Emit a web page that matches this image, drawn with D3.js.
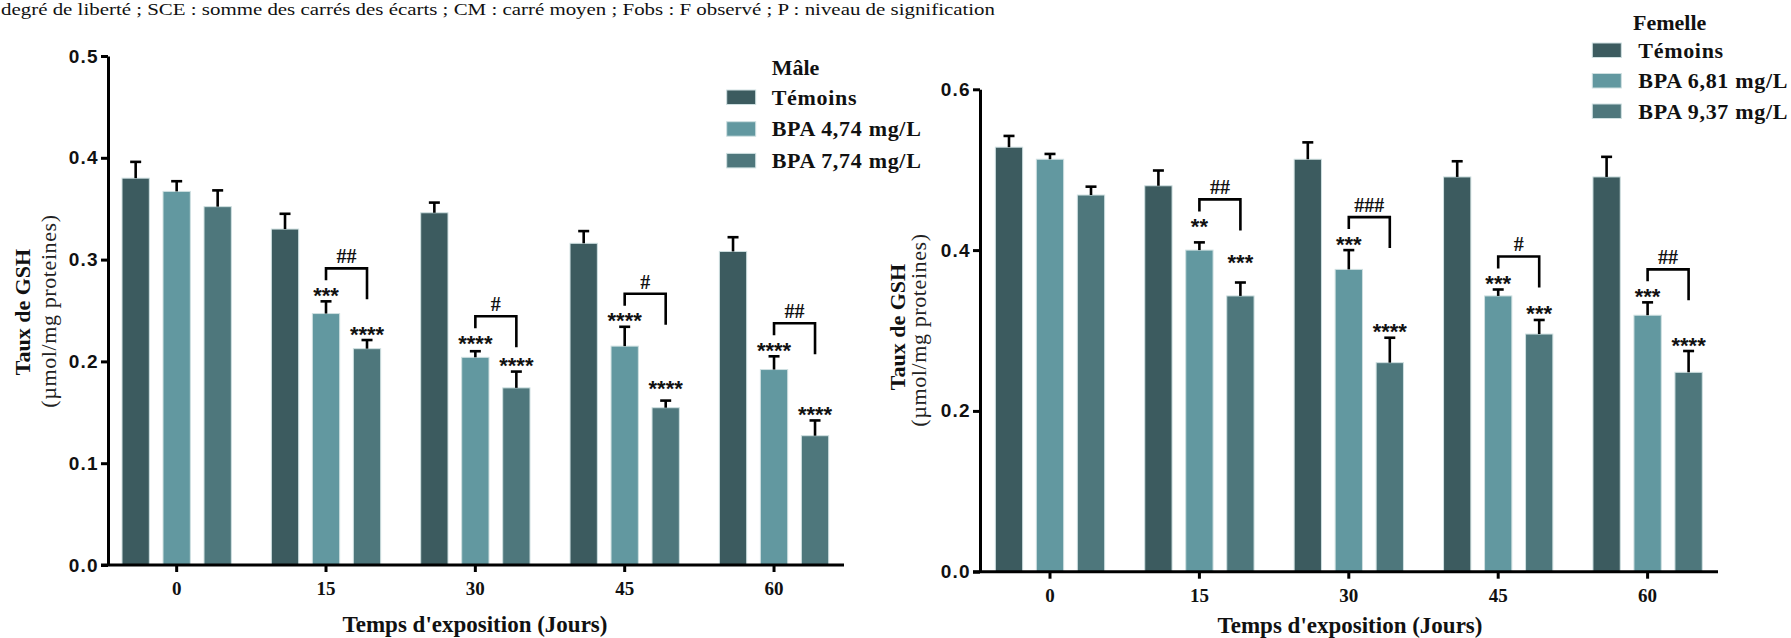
<!DOCTYPE html>
<html>
<head>
<meta charset="utf-8">
<script src="https://cdn.jsdelivr.net/npm/d3@7"></script>
<style>
  html, body { margin: 0; padding: 0; background: #fff; }
  svg { display: block; }
</style>
</head>
<body>
<svg id="chart" width="1791" height="638"></svg>
<script>
// ---- Data: GSH level (µmol/mg proteines), mean and SEM per exposure day ----
const days = ["0", "15", "30", "45", "60"];

// Mâle
const maleSeriesNames = ["Témoins", "BPA 4,74 mg/L", "BPA 7,74 mg/L"];
const maleTemoins      = [0.380, 0.330, 0.346, 0.316, 0.308];
const maleTemoinsErr   = [0.016, 0.015, 0.010, 0.012, 0.014];
const maleBpaLow       = [0.367, 0.247, 0.204, 0.215, 0.192];
const maleBpaLowErr    = [0.010, 0.012, 0.006, 0.019, 0.013];
const maleBpaHigh      = [0.352, 0.2125, 0.174, 0.1545, 0.127];
const maleBpaHighErr   = [0.016, 0.0085, 0.016, 0.007, 0.015];
const maleStarsLow     = ["", "***", "****", "****", "****"];
const maleStarsHigh    = ["", "****", "****", "****", "****"];
const maleHash         = ["", "##", "#", "#", "##"];
const maleYTicks       = [0.0, 0.1, 0.2, 0.3, 0.4, 0.5];

// Femelle
const femSeriesNames   = ["Témoins", "BPA 6,81 mg/L", "BPA 9,37 mg/L"];
const femTemoins       = [0.528, 0.480, 0.513, 0.491, 0.491];
const femTemoinsErr    = [0.014, 0.019, 0.021, 0.0195, 0.025];
const femBpaLow        = [0.513, 0.400, 0.376, 0.343, 0.319];
const femBpaLowErr     = [0.0066, 0.0096, 0.024, 0.008, 0.016];
const femBpaHigh       = [0.4685, 0.343, 0.260, 0.2956, 0.248];
const femBpaHighErr    = [0.0104, 0.0167, 0.031, 0.0175, 0.0265];
const femStarsLow      = ["", "**", "***", "***", "***"];
const femStarsHigh     = ["", "***", "****", "***", "****"];
const femHash          = ["", "##", "###", "#", "##"];
const femYTicks        = [0.0, 0.2, 0.4, 0.6];

const headerText = "degré de liberté ; SCE : somme des carrés des écarts ; CM : carré moyen ; Fobs : F observé ; P : niveau de signification";
const xTitleText = "Temps d'exposition (Jours)";
const yTitleMain = "Taux de GSH";
const yTitleUnit = "(µmol/mg proteines)";

// ---- Styling ----
const colors = ["#3c5b5f", "#6298a0", "#4e777c"];
const serif = "'Liberation Serif', 'Times New Roman', serif";
const sans = "'Liberation Sans', Arial, sans-serif";

const svg = d3.select("#chart");
svg.append("rect").attr("width", 1791).attr("height", 638).attr("fill", "#fff");

svg.append("text")
  .attr("x", 1).attr("y", 15)
  .attr("font-family", serif).attr("font-size", 17)
  .attr("textLength", 994).attr("lengthAdjust", "spacingAndGlyphs")
  .attr("fill", "#111")
  .text(headerText);

function drawPanel(cfg) {
  const g = svg.append("g");
  const values = cfg.values, errs = cfg.errs;

  const y = d3.scaleLinear().domain([0, cfg.yMax]).range([cfg.yBottom, cfg.yTop]);
  const x = d3.scaleBand().domain(days).range(cfg.bandRange).padding(0);
  const inner = d3.scaleBand().domain([0, 1, 2]).range([-61.5, 61.5])
    .paddingInner(0.334).paddingOuter(0.167);
  const cx = (i) => x(days[i]) + x.bandwidth() / 2;
  const barCenter = (i, s) => cx(i) + inner(s) + inner.bandwidth() / 2;

  // bars
  for (let s = 0; s < 3; s++) {
    g.append("g").selectAll("rect")
      .data(values[s])
      .join("rect")
      .attr("x", (d, i) => cx(i) + inner(s))
      .attr("width", inner.bandwidth())
      .attr("y", d => y(d))
      .attr("height", d => y(0) - y(d))
      .attr("fill", colors[s])
      .attr("stroke", "#cfe0e1")
      .attr("stroke-width", 1);
  }

  // upper error bars
  for (let s = 0; s < 3; s++) {
    const eg = g.append("g").attr("stroke", "#000").attr("stroke-width", 2.6);
    values[s].forEach((v, i) => {
      const bx = barCenter(i, s);
      const top = y(v + errs[s][i]);
      eg.append("line").attr("x1", bx).attr("x2", bx).attr("y1", y(v)).attr("y2", top);
      eg.append("line").attr("x1", bx - 5.5).attr("x2", bx + 5.5).attr("y1", top).attr("y2", top);
    });
  }

  // significance stars and brackets
  const starCenter = [];
  for (let s = 1; s < 3; s++) {
    const labels = s === 1 ? cfg.starsLow : cfg.starsHigh;
    starCenter[s] = [];
    values[s].forEach((v, i) => {
      const lift = (cfg.lift[s] && cfg.lift[s][i]) || 0;
      const c = y(v + errs[s][i]) - 11 - lift;
      starCenter[s][i] = c;
      if (!labels[i]) return;
      g.append("text")
        .attr("x", barCenter(i, s)).attr("y", c + 12.5)
        .attr("text-anchor", "middle")
        .attr("font-family", sans).attr("font-weight", "bold").attr("font-size", 22)
        .attr("fill", "#111")
        .text(labels[i]);
    });
  }
  cfg.hash.forEach((h, i) => {
    if (!h) return;
    const top = starCenter[1][i] - 22;
    const xl = barCenter(i, 1), xr = barCenter(i, 2);
    g.append("path")
      .attr("d", `M${xl},${top + 12}V${top}H${xr}V${top + 31}`)
      .attr("fill", "none").attr("stroke", "#000").attr("stroke-width", 2.6);
    g.append("text")
      .attr("x", (xl + xr) / 2).attr("y", top - 5)
      .attr("text-anchor", "middle")
      .attr("font-family", serif).attr("font-weight", "bold").attr("font-size", 20)
      .attr("fill", "#111")
      .text(h);
  });

  // y axis
  const ya = g.append("g").attr("transform", `translate(${cfg.axisX},0)`)
    .call(d3.axisLeft(y).tickValues(cfg.yTicks).tickFormat(d3.format(".1f"))
      .tickSize(7).tickSizeOuter(0).tickPadding(2));
  ya.selectAll("path, line").attr("stroke", "#000").attr("stroke-width", 3);
  ya.selectAll("text")
    .attr("font-family", sans).attr("font-weight", "bold").attr("font-size", 19)
    .attr("letter-spacing", 1.3)
    .attr("fill", "#111");

  // x axis
  const xa = g.append("g").attr("transform", `translate(0,${cfg.yBottom})`)
    .call(d3.axisBottom(x).tickSize(7).tickSizeOuter(0).tickPadding(10));
  xa.select(".domain").remove();
  xa.selectAll("line").attr("stroke", "#000").attr("stroke-width", 3);
  xa.selectAll("text")
    .attr("font-family", serif).attr("font-weight", "bold").attr("font-size", 19)
    .attr("fill", "#111");
  g.append("line")
    .attr("x1", cfg.axisX - 7).attr("x2", cfg.xEnd)
    .attr("y1", cfg.yBottom).attr("y2", cfg.yBottom)
    .attr("stroke", "#000").attr("stroke-width", 3);

  // axis titles
  g.append("text")
    .attr("x", cfg.xTitle[0]).attr("y", cfg.xTitle[1])
    .attr("text-anchor", "middle")
    .attr("font-family", serif).attr("font-weight", "bold").attr("font-size", 23)
    .attr("fill", "#111")
    .text(xTitleText);
  g.append("text")
    .attr("transform", `translate(${cfg.yTitle[0]},${cfg.yTitle[2]}) rotate(-90)`)
    .attr("text-anchor", "middle")
    .attr("font-family", serif).attr("font-weight", "bold").attr("font-size", 22)
    .attr("fill", "#111")
    .text(yTitleMain);
  g.append("text")
    .attr("transform", `translate(${cfg.yTitle[1]},${cfg.yTitle[3]}) rotate(-90)`)
    .attr("text-anchor", "middle")
    .attr("font-family", serif).attr("font-size", 22)
    .attr("letter-spacing", 0.6)
    .attr("fill", "#222")
    .text(yTitleUnit);

  // legend
  const L = cfg.legend;
  const lg = g.append("g");
  lg.append("text")
    .attr("x", L.titleX).attr("y", L.titleY)
    .attr("font-family", serif).attr("font-weight", "bold").attr("font-size", 22)
    .attr("fill", "#111")
    .text(L.title);
  cfg.names.forEach((name, s) => {
    const top = L.top + s * L.step;
    lg.append("rect")
      .attr("x", L.swX).attr("y", top).attr("width", 29).attr("height", 14.5)
      .attr("fill", colors[s]).attr("stroke", "#cfe0e1").attr("stroke-width", 1);
    lg.append("text")
      .attr("x", L.textX).attr("y", top + 14.5)
      .attr("font-family", serif).attr("font-weight", "bold").attr("font-size", 22)
      .attr("letter-spacing", 0.7)
      .attr("fill", "#111")
      .text(name);
  });
}

drawPanel({
  values: [maleTemoins, maleBpaLow, maleBpaHigh],
  errs: [maleTemoinsErr, maleBpaLowErr, maleBpaHighErr],
  starsLow: maleStarsLow, starsHigh: maleStarsHigh, hash: maleHash,
  names: maleSeriesNames,
  yMax: 0.5, yTicks: maleYTicks,
  yBottom: 565, yTop: 56,
  axisX: 108, bandRange: [102, 848.7], xEnd: 844,
  lift: { 1: { 2: 2 }, 2: { 3: 6 } },
  xTitle: [475, 632],
  yTitle: [30, 56, 312, 311],
  legend: { title: "Mâle", titleX: 771.7, titleY: 75, swX: 726.7, top: 90, step: 31.7, textX: 771.7 }
});

drawPanel({
  values: [femTemoins, femBpaLow, femBpaHigh],
  errs: [femTemoinsErr, femBpaLowErr, femBpaHighErr],
  starsLow: femStarsLow, starsHigh: femStarsHigh, hash: femHash,
  names: femSeriesNames,
  yMax: 0.6, yTicks: femYTicks,
  yBottom: 571.7, yTop: 89.3,
  axisX: 980, bandRange: [975.3, 1722.3], xEnd: 1718,
  lift: { 1: { 1: 10 }, 2: { 1: 14 } },
  xTitle: [1350, 633],
  yTitle: [905, 926, 327, 330],
  legend: { title: "Femelle", titleX: 1633, titleY: 30, swX: 1592.3, top: 43, step: 30.5, textX: 1638.3 }
});
</script>
</body>
</html>
